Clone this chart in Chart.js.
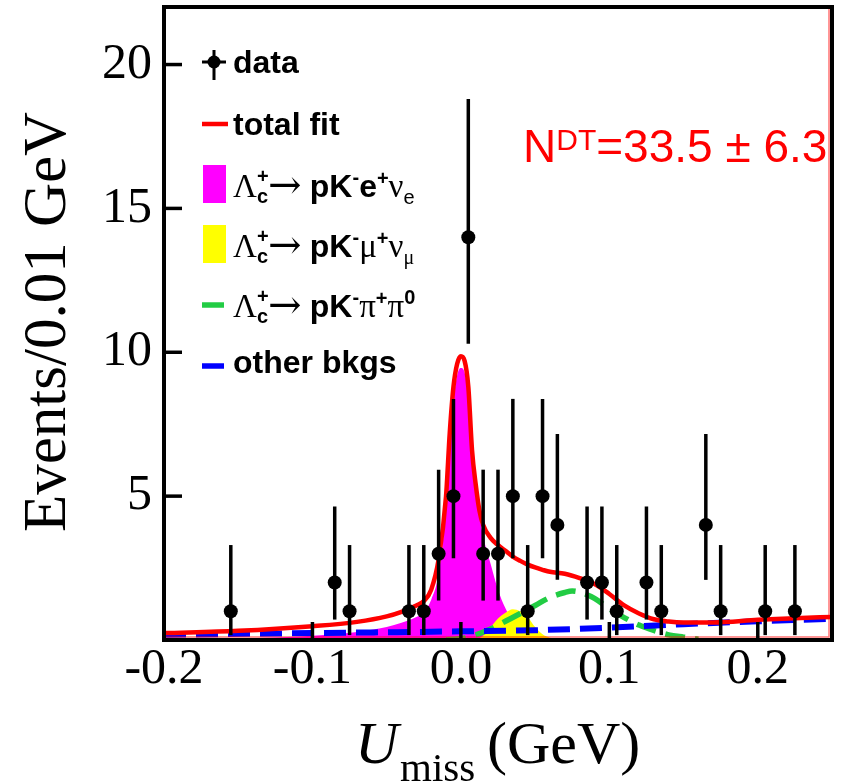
<!DOCTYPE html>
<html>
<head>
<meta charset="utf-8">
<script src="https://cdn.jsdelivr.net/npm/chart.js@4.4.1/dist/chart.umd.min.js"></script>
<style>
  body { margin: 0; background: #fff; }
  canvas { display: block; }
</style>
</head>
<body>
<canvas id="c" width="842" height="784"></canvas>
<script>
// data: events per 0.01 GeV bin (bin centres), with asymmetric (Poisson) error bars
const binX = [-0.155, -0.085, -0.075, -0.035, -0.025, -0.015, -0.005, 0.005, 0.015, 0.025, 0.035, 0.045,
              0.055, 0.065, 0.085, 0.095, 0.105, 0.125, 0.135, 0.165, 0.175, 0.205, 0.225];
const counts = [1, 2, 1, 1, 1, 3, 5, 14, 3, 3, 5, 1, 5, 4, 2, 2, 1, 2, 1, 4, 1, 1, 1];
const errLow = [0.17, 0.71, 0.17, 0.17, 0.17, 1.37, 2.84, 10.3, 1.37, 1.37, 2.84, 0.17,
                2.84, 2.09, 0.71, 0.71, 0.17, 0.71, 0.17, 2.09, 0.17, 0.17, 0.17];
const errHigh = [3.3, 4.64, 3.3, 3.3, 3.3, 5.92, 8.38, 18.8, 5.92, 5.92, 8.38, 3.3,
                 8.38, 7.16, 4.64, 4.64, 3.3, 4.64, 3.3, 7.16, 3.3, 3.3, 3.3];

// fit curves
const fitX = [-0.2, -0.15, -0.1, -0.07, -0.05, -0.04, -0.03, -0.025, -0.02, -0.015, -0.01, -0.0075,
              -0.005, -0.0025, 0, 0.0025, 0.005, 0.0075, 0.01, 0.0125, 0.015, 0.02, 0.025, 0.03,
              0.035, 0.04, 0.045, 0.05, 0.055, 0.06, 0.07, 0.08, 0.09, 0.1, 0.11, 0.12, 0.13,
              0.14, 0.15, 0.17, 0.2, 0.225, 0.25];
const totalFit = [0.24, 0.32, 0.48, 0.63, 0.82, 0.98, 1.2, 1.35, 1.75, 2.8, 5.0, 7.2,
                  8.8, 9.6, 9.86, 9.7, 8.8, 6.6, 5.4, 4.5, 4.0, 3.55, 3.3, 3.1,
                  2.9, 2.75, 2.62, 2.52, 2.44, 2.37, 2.3, 2.15, 1.95, 1.6, 1.2, 0.92, 0.72,
                  0.64, 0.61, 0.61, 0.7, 0.76, 0.8];
const sigE = [0.03, 0.06, 0.15, 0.28, 0.45, 0.6, 0.8, 0.95, 1.4, 2.3, 4.6, 6.6,
              8.3, 9.2, 9.45, 9.3, 8.4, 6.3, 5.0, 4.3, 3.6, 2.65, 1.75, 1.1,
              0.65, 0.4, 0.25, 0.15, 0.1, 0.07, 0.03, 0.02, 0.01, 0.01, 0.01, 0.01, 0.01,
              0.01, 0.01, 0.01, 0.01, 0.01, 0.01];

const muX = [0.005, 0.01, 0.015, 0.02, 0.025, 0.03, 0.035, 0.04, 0.045, 0.05, 0.055, 0.06, 0.07, 0.08];
const sigMu = [0, 0.03, 0.15, 0.45, 0.75, 0.95, 1.07, 1.0, 0.8, 0.45, 0.2, 0.08, 0.02, 0];

const piX = [-0.01, 0, 0.01, 0.02, 0.03, 0.04, 0.05, 0.06, 0.07, 0.075, 0.08, 0.09, 0.1,
             0.11, 0.12, 0.13, 0.14, 0.15, 0.16];
const bkgPi = [0, 0.05, 0.18, 0.38, 0.65, 0.92, 1.2, 1.48, 1.65, 1.7, 1.66, 1.45, 1.08,
               0.78, 0.52, 0.33, 0.18, 0.1, 0.03];

const otherX = [-0.2, -0.1, 0, 0.05, 0.1, 0.15, 0.2, 0.25];
const bkgOther = [0.18, 0.24, 0.3, 0.34, 0.43, 0.55, 0.65, 0.74];

const yTicks = [5, 10, 15, 20];
const xTicks = [-0.2, -0.1, 0.0, 0.1, 0.2];

const SERIF = '"Liberation Serif", "Times New Roman", serif';
const SANS = '"Liberation Sans", Arial, sans-serif';

function pts(xs, ys) {
  return xs.map((x, i) => ({ x: x, y: ys[i] }));
}

// draw a row of text pieces (for sub/superscripts)
function drawRuns(ctx, x, y, runs) {
  runs.forEach(r => {
    ctx.font = r.font;
    ctx.fillText(r.t, x, y + (r.dy || 0));
    if (!r.stack) x += ctx.measureText(r.t).width;
  });
}

function noPad(s) {
  s.paddingTop = 0; s.paddingBottom = 0; s.paddingLeft = 0; s.paddingRight = 0;
}

const decor = {
  id: 'decor',
  afterDatasetsDraw(chart) {
    const ctx = chart.ctx, xs = chart.scales.x, ys = chart.scales.y;
    ctx.save();
    ctx.strokeStyle = '#000';
    ctx.lineWidth = 3.5;
    binX.forEach((v, i) => {
      const px = xs.getPixelForValue(v);
      ctx.beginPath();
      ctx.moveTo(px, ys.getPixelForValue(errLow[i]));
      ctx.lineTo(px, ys.getPixelForValue(errHigh[i]));
      ctx.stroke();
    });
    ctx.restore();
  },
  afterDraw(chart) {
    const ctx = chart.ctx, ca = chart.chartArea;
    const xs = chart.scales.x, ys = chart.scales.y;
    ctx.save();

    // N^DT annotation
    ctx.fillStyle = '#ff0000';
    ctx.textBaseline = 'alphabetic';
    ctx.textAlign = 'left';
    drawRuns(ctx, 523, 162, [
      { t: 'N', font: '46px ' + SANS },
      { t: 'DT', font: '30px ' + SANS, dy: -12 },
      { t: '=33.5 \u00b1 6.3', font: '46px ' + SANS }
    ]);

    // thin red inner frame (right / bottom)
    ctx.strokeStyle = 'rgba(255,0,0,0.55)';
    ctx.lineWidth = 1.5;
    ctx.beginPath();
    ctx.moveTo(ca.right - 3, ca.top + 2);
    ctx.lineTo(ca.right - 3, ca.bottom - 3);
    ctx.lineTo(ca.left + 2, ca.bottom - 3);
    ctx.stroke();

    // frame
    ctx.strokeStyle = '#000';
    ctx.lineWidth = 4;
    ctx.strokeRect(ca.left, ca.top, ca.right - ca.left, ca.bottom - ca.top);

    // inward tick marks
    ctx.lineWidth = 3.5;
    yTicks.forEach(v => {
      const py = ys.getPixelForValue(v);
      ctx.beginPath(); ctx.moveTo(ca.left, py); ctx.lineTo(ca.left + 18, py); ctx.stroke();
    });
    xTicks.forEach(v => {
      const px = xs.getPixelForValue(v);
      ctx.beginPath(); ctx.moveTo(px, ca.bottom); ctx.lineTo(px, ca.bottom - 18); ctx.stroke();
    });

    // axis titles
    ctx.fillStyle = '#000';
    ctx.save();
    ctx.translate(65, 322);
    ctx.rotate(-Math.PI / 2);
    ctx.textAlign = 'center';
    ctx.font = '61px ' + SERIF;
    ctx.fillText('Events/0.01 GeV', 0, 0);
    ctx.restore();

    ctx.textAlign = 'left';
    ctx.font = 'italic 60px ' + SERIF;
    ctx.fillText('U', 355, 763);
    ctx.font = '41px ' + SERIF;
    ctx.fillText('miss', 400, 781);
    ctx.font = '60px ' + SERIF;
    ctx.fillText('(GeV)', 487, 763);

    // legend
    const lx = 233;
    ctx.lineWidth = 3;
    ctx.beginPath();
    ctx.moveTo(202, 62); ctx.lineTo(226, 62);
    ctx.moveTo(214, 50); ctx.lineTo(214, 80);
    ctx.stroke();
    ctx.beginPath(); ctx.arc(214, 62, 6.5, 0, Math.PI * 2); ctx.fill();
    ctx.font = 'bold 32px ' + SANS;
    ctx.fillText('data', lx, 73);

    ctx.strokeStyle = '#ff0000'; ctx.lineWidth = 4.5;
    ctx.beginPath(); ctx.moveTo(202, 124); ctx.lineTo(228, 124); ctx.stroke();
    ctx.fillText('total fit', lx, 135);

    ctx.fillStyle = '#ff00ff'; ctx.fillRect(203, 165, 23, 38);
    ctx.fillStyle = '#ffff00'; ctx.fillRect(203, 225, 23, 38);
    ctx.strokeStyle = '#22cc44'; ctx.lineWidth = 5.5;
    ctx.beginPath(); ctx.moveTo(202, 305); ctx.lineTo(224, 305); ctx.stroke();
    ctx.strokeStyle = '#0000ff';
    ctx.beginPath(); ctx.moveTo(202, 366); ctx.lineTo(224, 366); ctx.stroke();

    ctx.fillStyle = '#000';
    const big = '33px ' + SERIF, bold = 'bold 32px ' + SANS;
    const arrow = '40px "DejaVu Serif", ' + SERIF;
    const sup = 'bold 20px ' + SANS, subS = '20px ' + SERIF, subA = '20px ' + SANS;
    const head = [
      { t: '\u039b', font: big },
      { t: '+', font: sup, dy: -14, stack: true },
      { t: 'c', font: sup, dy: 6 },
      { t: '\u2192', font: arrow, dy: 1 },
      { t: ' ', font: big },
      { t: 'pK', font: bold },
      { t: '-', font: sup, dy: -13 }
    ];
    drawRuns(ctx, lx, 197, head.concat([
      { t: 'e', font: bold },
      { t: '+', font: sup, dy: -12 },
      { t: '\u03bd', font: big },
      { t: 'e', font: subA, dy: 7 }
    ]));
    drawRuns(ctx, lx, 257, head.concat([
      { t: '\u03bc', font: big },
      { t: '+', font: sup, dy: -12 },
      { t: '\u03bd', font: big },
      { t: '\u03bc', font: subS, dy: 7 }
    ]));
    drawRuns(ctx, lx, 317, head.concat([
      { t: '\u03c0', font: big },
      { t: '+', font: sup, dy: -12 },
      { t: '\u03c0', font: big },
      { t: '0', font: sup, dy: -13 }
    ]));
    ctx.font = bold;
    ctx.fillText('other bkgs', lx, 373);

    ctx.restore();
  }
};

new Chart(document.getElementById('c'), {
  type: 'line',
  data: {
    datasets: [
      {
        label: 'data',
        data: pts(binX, counts),
        showLine: false,
        pointRadius: 7,
        pointBackgroundColor: '#000',
        pointBorderWidth: 0,
        order: 0
      },
      {
        label: 'total fit',
        data: pts(fitX, totalFit),
        borderColor: '#ff0000',
        borderWidth: 4.5,
        pointRadius: 0,
        cubicInterpolationMode: 'monotone',
        fill: false,
        order: 1
      },
      {
        label: 'other bkgs',
        data: pts(otherX, bkgOther),
        borderColor: '#0000ff',
        borderWidth: 6,
        borderDash: [22, 10],
        pointRadius: 0,
        cubicInterpolationMode: 'monotone',
        fill: false,
        order: 2
      },
      {
        label: 'pK pi pi0',
        data: pts(piX, bkgPi),
        borderColor: '#22cc44',
        borderWidth: 5.5,
        borderDash: [20, 10],
        pointRadius: 0,
        cubicInterpolationMode: 'monotone',
        fill: false,
        order: 3
      },
      {
        label: 'pK mu nu',
        data: pts(muX, sigMu),
        borderWidth: 0,
        backgroundColor: '#ffff00',
        pointRadius: 0,
        cubicInterpolationMode: 'monotone',
        fill: 'origin',
        order: 4
      },
      {
        label: 'pK e nu',
        data: pts(fitX, sigE),
        borderWidth: 0,
        backgroundColor: '#ff00ff',
        pointRadius: 0,
        cubicInterpolationMode: 'monotone',
        fill: 'origin',
        order: 5
      }
    ]
  },
  options: {
    responsive: false,
    animation: false,
    layout: { padding: { top: 5, right: 10, left: 0, bottom: 0 } },
    plugins: { legend: { display: false }, tooltip: { enabled: false } },
    scales: {
      x: {
        type: 'linear',
        min: -0.2,
        max: 0.25,
        afterBuildTicks: s => { s.ticks = xTicks.map(v => ({ value: v })); },
        afterFit: s => { s.height = 144; noPad(s); },
        grid: { display: false, drawTicks: false },
        border: { display: false },
        ticks: {
          autoSkip: false,
          maxRotation: 0,
          padding: 0,
          color: '#000',
          font: { family: SERIF, size: 50 },
          callback: v => (Math.abs(v) < 1e-9 ? 0 : v).toFixed(1)
        }
      },
      y: {
        min: 0,
        max: 22,
        afterBuildTicks: s => { s.ticks = yTicks.map(v => ({ value: v })); },
        afterFit: s => { s.width = 164; noPad(s); },
        grid: { display: false, drawTicks: false },
        border: { display: false },
        ticks: {
          padding: 12,
          color: '#000',
          font: { family: SERIF, size: 50 },
          callback: v => String(v)
        }
      }
    }
  },
  plugins: [decor]
});
</script>
</body>
</html>
